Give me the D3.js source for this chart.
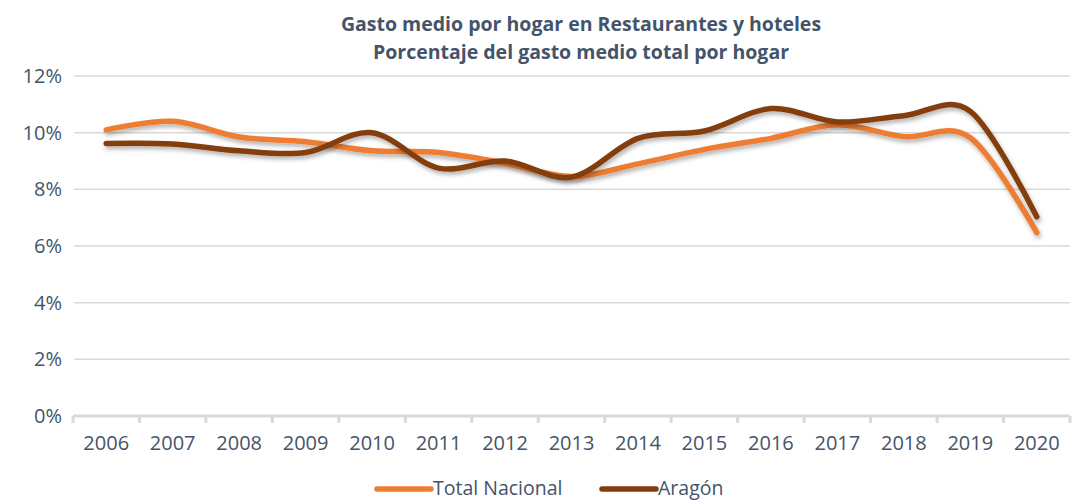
<!DOCTYPE html>
<html>
<head>
<meta charset="utf-8">
<style>
body { margin: 0; background: #fff; }
svg { font-family: 'Open Sans', sans-serif; }
</style>
</head>
<body>
<svg></svg>
<script src="https://d3js.org/d3.v7.min.js"></script>
<script>

const years = ['2006', '2007', '2008', '2009', '2010', '2011', '2012', '2013',
    '2014', '2015', '2016', '2017', '2018', '2019', '2020'];

// porcentaje del gasto total
const totalNacional = [10.1, 10.4, 9.85, 9.68, 9.36, 9.3, 8.92, 8.45,
    8.9, 9.41, 9.8, 10.28, 9.86, 9.82, 6.47];
const aragon = [9.62, 9.6, 9.36, 9.3, 10.0, 8.75, 9.0, 8.43,
    9.8, 10.06, 10.85, 10.38, 10.6, 10.75, 7.03];

const yTicks = [0, 2, 4, 6, 8, 10, 12];

const series = [
    {name: 'Total Nacional', values: totalNacional, color: '#ED7D31'},
    {name: 'Aragón', values: aragon, color: '#843C0C'},
];

const fullWidth = 1073;
const fullHeight = 502;
const textColor = '#44546A';
const gridColor = '#D9D9D9';

const svg = d3.select('svg')
    .attr('width', fullWidth)
    .attr('height', fullHeight);

const x = d3.scaleBand()
    .domain(years)
    .range([73, 1070]);

const y = d3.scaleLinear()
    .domain([0, 12])
    .range([416, 76]);

const defs = svg.append('defs');
const shadow = defs.append('filter')
    .attr('id', 'shadow')
    .attr('x', '-5%').attr('y', '-20%')
    .attr('width', '110%').attr('height', '160%');
shadow.append('feDropShadow')
    .attr('dx', 1.5)
    .attr('dy', 3)
    .attr('stdDeviation', 2)
    .attr('flood-color', '#000')
    .attr('flood-opacity', 0.3);

// titulo
const title = svg.append('text')
    .attr('x', 566)
    .attr('text-anchor', 'middle')
    .attr('fill', textColor)
    .attr('font-size', '19.5px')
    .attr('font-weight', 700);
title.append('tspan').attr('x', 581).attr('y', 31)
    .text('Gasto medio por hogar en Restaurantes y hoteles');
title.append('tspan').attr('x', 581).attr('y', 59)
    .text('Porcentaje del gasto medio total por hogar');

// grid
svg.append('g')
    .selectAll('line')
    .data(yTicks.filter(d => d > 0))
    .join('line')
    .attr('x1', 74)
    .attr('x2', 1070)
    .attr('y1', d => y(d))
    .attr('y2', d => y(d))
    .attr('stroke', gridColor)
    .attr('stroke-width', 1.5);

// eje y
svg.append('g')
    .selectAll('text')
    .data(yTicks)
    .join('text')
    .attr('x', 62)
    .attr('y', d => y(d))
    .attr('dy', '0.35em')
    .attr('text-anchor', 'end')
    .attr('fill', textColor)
    .attr('font-size', '20px')
    .text(d => d + '%');

// eje x
const xAxis = svg.append('g');
xAxis.append('line')
    .attr('x1', 73)
    .attr('x2', 1070)
    .attr('y1', y(0))
    .attr('y2', y(0))
    .attr('stroke', gridColor)
    .attr('stroke-width', 3);
xAxis.selectAll('.tick')
    .data(years.concat(['end']))
    .join('line')
    .attr('class', 'tick')
    .attr('x1', (d, i) => x.range()[0] + i * x.step())
    .attr('x2', (d, i) => x.range()[0] + i * x.step())
    .attr('y1', y(0))
    .attr('y2', y(0) + 7)
    .attr('stroke', gridColor)
    .attr('stroke-width', 3);
xAxis.selectAll('.label')
    .data(years)
    .join('text')
    .attr('class', 'label')
    .attr('x', d => x(d) + x.bandwidth() / 2)
    .attr('y', 450)
    .attr('text-anchor', 'middle')
    .attr('fill', textColor)
    .attr('font-size', '20px')
    .text(d => d);

// lineas
const line = d3.line()
    .x((d, i) => x(years[i]) + x.bandwidth() / 2)
    .y(d => y(d))
    .curve(d3.curveCardinal.tension(0));

svg.append('g')
    .selectAll('path')
    .data(series)
    .join('path')
    .attr('d', d => line(d.values))
    .attr('fill', 'none')
    .attr('stroke', d => d.color)
    .attr('stroke-width', 5.5)
    .attr('stroke-linecap', 'round')
    .attr('filter', 'url(#shadow)');

// leyenda
const legendPos = [{lx: 377, tx: 433}, {lx: 602, tx: 658}];
const legend = svg.append('g')
    .selectAll('g')
    .data(series)
    .join('g');
legend.append('line')
    .attr('x1', (d, i) => legendPos[i].lx)
    .attr('x2', (d, i) => legendPos[i].lx + 54)
    .attr('y1', 489)
    .attr('y2', 489)
    .attr('stroke', d => d.color)
    .attr('stroke-width', 5.5)
    .attr('stroke-linecap', 'round');
legend.append('text')
    .attr('x', (d, i) => legendPos[i].tx)
    .attr('y', 489)
    .attr('dy', '0.33em')
    .attr('fill', textColor)
    .attr('font-size', '19.5px')
    .text(d => d.name);

</script>
</body>
</html>
